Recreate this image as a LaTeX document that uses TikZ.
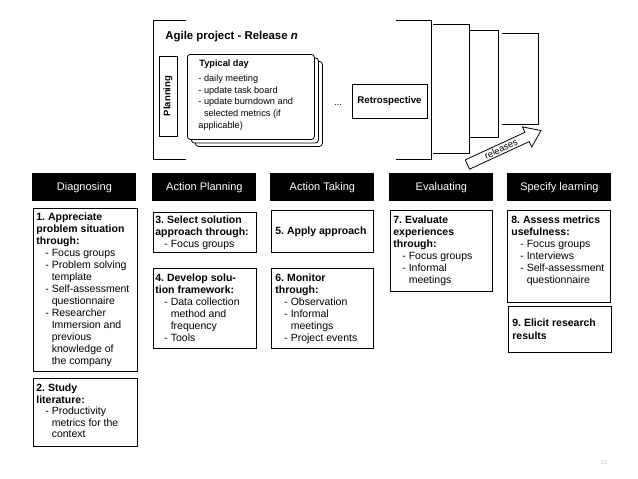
\documentclass[tikz,border=0pt]{standalone}
\usepackage{fontspec}
\setmainfont{Liberation Sans}
\usetikzlibrary{shapes.arrows}
\frenchspacing
\newcommand\ditem[1]{\hspace*{9pt}- #1}
\newcommand\dcont[1]{\hspace*{9pt}\hphantom{-\ }#1}
\begin{document}
\begin{tikzpicture}[x=1pt,y=-1pt,line width=0.8pt,
  hdr/.style={fill=black,text=white,minimum width=104pt,minimum height=28pt,inner sep=0pt,anchor=north west,font=\fontsize{11}{13}\selectfont},
  box/.style={draw,anchor=north west,inner sep=0pt},
  txt/.style={anchor=north west,align=left,inner sep=0pt,font=\fontsize{10.5}{12}\selectfont},
  card/.style={draw,fill=white,rounded corners=3pt,anchor=north west,inner sep=0pt,minimum width=127pt,minimum height=85pt},
  cardtxt/.style={anchor=north west,align=left,inner sep=0pt,font=\fontsize{9.2}{11.7}\selectfont}]
\useasboundingbox[fill=white] (0,0) rectangle (638,479);

% ---- release frame ----
\draw (186,20) -- (153,20) -- (153,159) -- (186,159);
\draw (396,20) -- (431,20) -- (431,159) -- (396,159);
\draw (433,24) -- (469,24) -- (469,153) -- (433,153);
\draw (469,30) -- (498,30) -- (498,137) -- (469,137);
\draw (502,33) -- (538,33) -- (538,124) -- (502,124);

\node[anchor=west,inner sep=0pt,font=\fontsize{11.4}{13}\selectfont\bfseries] (title) at (165,37) {Agile project - Release \textit{n}};

\node[draw,rotate=90,minimum width=80pt,minimum height=18pt,inner sep=0pt,font=\fontsize{9.5}{11}\selectfont\bfseries] (plan) at (168,96) {Planning};

\node[card] (c3) at (195,61) {};
\node[card] (c2) at (191,57.5) {};
\node[card] (c1) at (187,54) {};
\node[anchor=west,inner sep=0pt,font=\fontsize{9.2}{11}\selectfont\bfseries] (tdt) at (199,64) {Typical day};
\node[cardtxt] (tdl) at (198,74.5) {- daily meeting\\- update task board\\- update burndown and\\\hphantom{-\ }selected metrics (if\\applicable)};

\node[anchor=base,inner sep=0pt,font=\fontsize{9.5}{11}\selectfont] (dots) at (338,105) {...};
\node[draw,minimum width=75pt,minimum height=34pt,inner sep=0pt,font=\fontsize{9.7}{11}\selectfont\bfseries] (retro) at (389.5,101) {Retrospective};

\node[single arrow,draw,fill=white,rotate=24.8,minimum height=81pt,single arrow head extend=6pt,single arrow tip angle=72,inner xsep=1.5pt,inner ysep=1.3pt,font=\fontsize{9.3}{10}\selectfont] (rel) at (501,149) {releases};

% ---- headers ----
\node[hdr] (h1) at (32,173) {Diagnosing};
\node[hdr] (h2) at (152,173) {Action Planning};
\node[hdr] (h3) at (270,173) {Action Taking};
\node[hdr] (h4) at (389,173) {Evaluating};
\node[hdr] (h5) at (507,173) {Specify learning};

% ---- boxes ----
\node[box,minimum width=104pt,minimum height=163pt] (b1) at (33,208) {};
\node[box,minimum width=104pt,minimum height=68pt] (b2) at (33,378) {};
\node[box,minimum width=103pt,minimum height=40pt] (b3) at (153,212) {};
\node[box,minimum width=103pt,minimum height=80pt] (b4) at (153,268) {};
\node[box,minimum width=102pt,minimum height=42pt] (b5) at (271,210) {};
\node[box,minimum width=102pt,minimum height=80pt] (b6) at (271,268) {};
\node[box,minimum width=102pt,minimum height=81pt] (b7) at (390,210) {};
\node[box,minimum width=103pt,minimum height=92pt] (b8) at (507,210) {};
\node[box,minimum width=103pt,minimum height=46pt] (b9) at (508,306) {};

\node[txt] (t1) at ([shift={(3,4.5)}]b1.north west) {\textbf{1. Appreciate}\\\textbf{problem situation}\\\textbf{through:}\\\ditem{Focus groups}\\\ditem{Problem solving}\\\dcont{template}\\\ditem{Self-assessment}\\\dcont{questionnaire}\\\ditem{Researcher}\\\dcont{Immersion and}\\\dcont{previous}\\\dcont{knowledge of}\\\dcont{the company}};
\node[txt,font=\fontsize{10.5}{11.6}\selectfont] (t2) at ([shift={(3,5.5)}]b2.north west) {\textbf{2. Study}\\\textbf{literature:}\\\ditem{Productivity}\\\dcont{metrics for the}\\\dcont{context}};
\node[txt] (t3) at ([shift={(2,3.5)}]b3.north west) {\textbf{3. Select solution}\\\textbf{approach through:}\\\ditem{Focus groups}};
\node[txt] (t4) at ([shift={(2,5.5)}]b4.north west) {\textbf{4. Develop solu-}\\\textbf{tion framework:}\\\ditem{Data collection}\\\dcont{method and}\\\dcont{frequency}\\\ditem{Tools}};
\node[txt,anchor=west] (t5) at ([shift={(4,0)}]b5.west) {\textbf{5. Apply approach}};
\node[txt] (t6) at ([shift={(4,5.5)}]b6.north west) {\textbf{6. Monitor}\\\textbf{through:}\\\ditem{Observation}\\\ditem{Informal}\\\dcont{meetings}\\\ditem{Project events}};
\node[txt] (t7) at ([shift={(3,5)}]b7.north west) {\textbf{7. Evaluate}\\\textbf{experiences}\\\textbf{through:}\\\ditem{Focus groups}\\\ditem{Informal}\\\dcont{meetings}};
\node[txt] (t8) at ([shift={(4,5)}]b8.north west) {\textbf{8. Assess metrics}\\\textbf{usefulness:}\\\ditem{Focus groups}\\\ditem{Interviews}\\\ditem{Self-assessment}\\\dcont{questionnaire}};
\node[txt,anchor=west,font=\fontsize{10.5}{13}\selectfont] (t9) at ([shift={(4,0)}]b9.west) {\textbf{9. Elicit research}\\\textbf{results}};

\node[inner sep=0pt,text=gray!45,font=\fontsize{6}{7}\selectfont] (pg) at (604,462) {33};
\end{tikzpicture}
\end{document}
